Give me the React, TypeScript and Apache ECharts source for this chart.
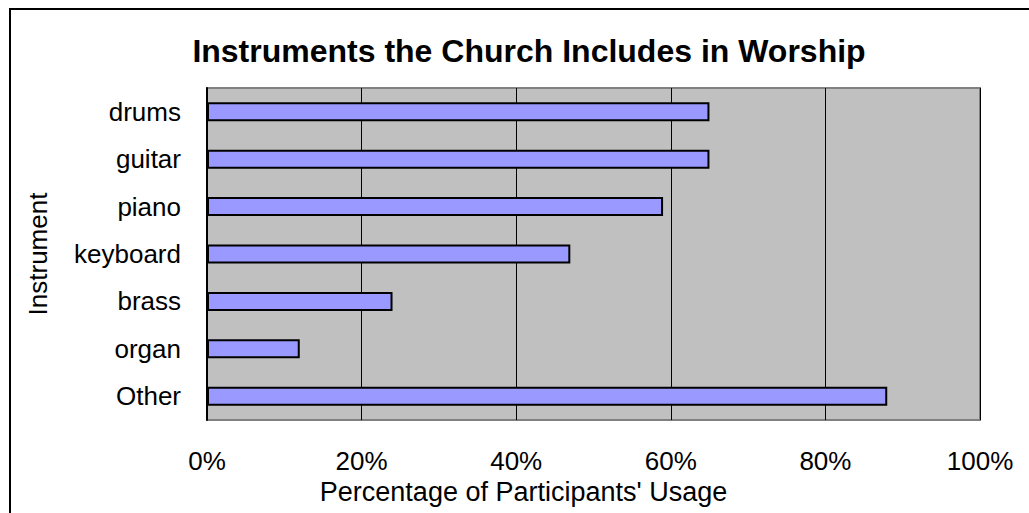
import React, { useEffect, useRef } from "react";
import * as echarts from "echarts";

const categories = ["drums", "guitar", "piano", "keyboard", "brass", "organ", "Other"];
const usage = [65, 65, 59, 47, 24, 12, 88];
const xTicks = [0, 20, 40, 60, 80, 100];

const FONT = "Liberation Sans, Arial, sans-serif";

export default function App() {
  const ref = useRef<HTMLDivElement>(null);
  useEffect(() => {
    document.body.style.margin = "0";
    const chart = echarts.init(ref.current!, null, { renderer: "svg" });
    chart.setOption({
      animation: false,
      backgroundColor: "#ffffff",
      title: {
        text: "Instruments the Church Includes in Worship",
        left: 524,
        top: 30,
        textAlign: "center",
        textStyle: { fontFamily: FONT, fontSize: 32, fontWeight: "bold", color: "#000" },
      },
      graphic: [
        {
          type: "rect",
          shape: { x: 10, y: 9, width: 1040, height: 540 },
          style: { fill: "none", stroke: "#000", lineWidth: 2 },
          silent: true,
          z: 100,
        },
      ],
      grid: {
        left: 207,
        top: 88,
        right: 49,
        bottom: 93,
        show: true,
        backgroundColor: "#c0c0c0",
        borderColor: "#808080",
        borderWidth: 2,
      },
      xAxis: {
        type: "value",
        min: 0,
        max: 100,
        interval: 20,
        name: "Percentage of Participants' Usage",
        nameLocation: "middle",
        nameGap: 57,
        nameTextStyle: { fontFamily: FONT, fontSize: 27, color: "#000", padding: [0, 140, 0, 0] },
        axisLine: { show: false },
        axisTick: { show: false },
        axisLabel: {
          fontFamily: FONT,
          fontSize: 26,
          color: "#000",
          margin: 28,
          formatter: (v: number) => (xTicks.includes(v) ? v + "%" : ""),
        },
        splitLine: { show: true, lineStyle: { color: "#000", width: 1 } },
      },
      yAxis: {
        type: "category",
        data: categories,
        inverse: true,
        name: "Instrument",
        nameLocation: "middle",
        nameGap: 156,
        nameRotate: 90,
        nameTextStyle: { fontFamily: FONT, fontSize: 26, color: "#000" },
        axisLine: { show: true, lineStyle: { color: "#000", width: 2 } },
        axisTick: { show: false },
        axisLabel: { fontFamily: FONT, fontSize: 26, color: "#000", margin: 26 },
      },
      series: [
        {
          type: "bar",
          data: usage,
          barWidth: 19,
          itemStyle: { color: "#9999ff", borderColor: "#000", borderWidth: 2 },
        },
      ],
    });
    return () => chart.dispose();
  }, []);
  return <div ref={ref} style={{ position: "absolute", left: 0, top: 0, width: 1029, height: 513 }} />;
}
